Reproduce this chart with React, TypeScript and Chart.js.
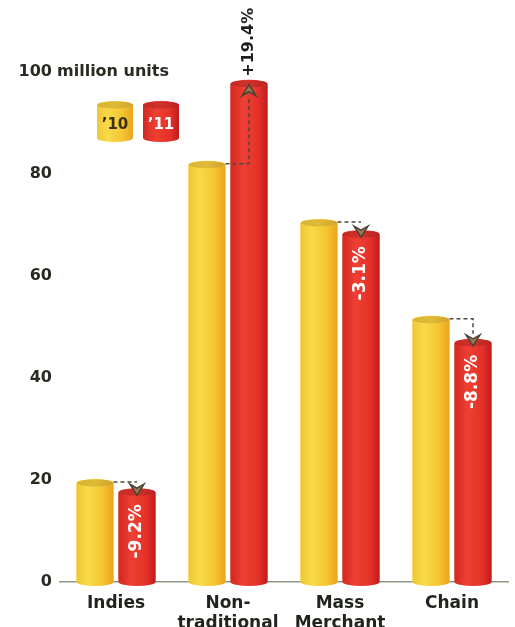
import React, { useEffect, useRef } from 'react';
import { Chart, registerables } from 'chart.js';

Chart.register(...registerables);

const categories = [['Indies'], ['Non-', 'traditional'], ['Mass', 'Merchant'], ['Chain']];
const units2010 = [19.4, 81.8, 70.4, 51.4];
const units2011 = [17.6, 97.7, 68.2, 46.9];
const changeLabels = ['-9.2%', '+19.4%', '-3.1%', '-8.8%'];
const seriesLabels = ['\u201910', '\u201911'];
const axisUnit = 'million units';

const FONT = '"DejaVu Sans", sans-serif';

function cylinder(ctx: CanvasRenderingContext2D, cx: number, top: number, bottom: number, w: number, kind: 'y' | 'r') {
  const left = cx - w / 2;
  const right = cx + w / 2;
  const ry = 4;
  const g = ctx.createLinearGradient(left, 0, right, 0);
  if (kind === 'y') {
    g.addColorStop(0, '#F1C634');
    g.addColorStop(0.3, '#F8DA4A');
    g.addColorStop(0.7, '#F4C632');
    g.addColorStop(1, '#EBA420');
  } else {
    g.addColorStop(0, '#D22822');
    g.addColorStop(0.35, '#EF3F32');
    g.addColorStop(0.75, '#E4322A');
    g.addColorStop(1, '#BE1C1C');
  }
  ctx.save();
  ctx.fillStyle = g;
  ctx.beginPath();
  ctx.moveTo(left, top);
  ctx.lineTo(left, bottom);
  ctx.ellipse(cx, bottom, w / 2, ry, 0, Math.PI, 0, true);
  ctx.lineTo(right, top);
  ctx.ellipse(cx, top, w / 2, ry, 0, 0, -Math.PI, true);
  ctx.closePath();
  ctx.fill();
  const tg = ctx.createLinearGradient(left, 0, right, 0);
  if (kind === 'y') {
    tg.addColorStop(0, '#D8B432');
    tg.addColorStop(0.5, '#DDBA38');
    tg.addColorStop(1, '#D2A42A');
  } else {
    tg.addColorStop(0, '#C42A26');
    tg.addColorStop(0.5, '#CF322C');
    tg.addColorStop(1, '#B82220');
  }
  ctx.fillStyle = tg;
  ctx.beginPath();
  ctx.ellipse(cx, top, w / 2 - 0.5, ry - 0.5, 0, 0, Math.PI * 2);
  ctx.fill();
  ctx.restore();
}

function arrowHead(ctx: CanvasRenderingContext2D, x: number, tipY: number, dir: 1 | -1) {
  const hw = 7;
  const h = 11;
  ctx.save();
  ctx.beginPath();
  ctx.moveTo(x, tipY);
  ctx.lineTo(x - hw, tipY - dir * h);
  ctx.lineTo(x, tipY - dir * (h - 4));
  ctx.lineTo(x + hw, tipY - dir * h);
  ctx.closePath();
  ctx.fillStyle = '#9A7A58';
  ctx.strokeStyle = '#4E4232';
  ctx.lineWidth = 1.5;
  ctx.setLineDash([]);
  ctx.fill();
  ctx.stroke();
  ctx.restore();
}

const cylinderPlugin = {
  id: 'cylinders',
  afterDatasetsDraw(chart: any) {
    const ctx: CanvasRenderingContext2D = chart.ctx;
    const m0 = chart.getDatasetMeta(0);
    const m1 = chart.getDatasetMeta(1);
    const yScale = chart.scales.y;
    const base = yScale.getPixelForValue(0);
    m0.data.forEach((el: any) => cylinder(ctx, el.x, el.y, base, el.width, 'y'));
    m1.data.forEach((el: any) => cylinder(ctx, el.x, el.y, base, el.width, 'r'));

    // change indicators
    m0.data.forEach((ey: any, i: number) => {
      const er = m1.data[i];
      const yTop = ey.y - 1;
      const rTop = er.y;
      const yRight = ey.x + ey.width / 2;
      const up = rTop < yTop;
      ctx.save();
      ctx.strokeStyle = '#4A4A40';
      ctx.lineWidth = 1.5;
      ctx.setLineDash([4, 3]);
      ctx.beginPath();
      ctx.moveTo(yRight, yTop);
      ctx.lineTo(er.x, yTop);
      if (up) {
        ctx.lineTo(er.x, rTop + 12);
      } else if (rTop - yTop > 13) {
        ctx.lineTo(er.x, rTop - 9);
      }
      ctx.stroke();
      ctx.restore();
      if (up) arrowHead(ctx, er.x, rTop + 1, -1);
      else arrowHead(ctx, er.x, rTop + 3, 1);

      // label
      const label = changeLabels[i];
      ctx.save();
      ctx.textBaseline = 'middle';
      if (up) {
        ctx.font = `bold 16px ${FONT}`;
        ctx.translate(er.x, rTop - 7);
        ctx.rotate(-Math.PI / 2);
        ctx.textAlign = 'left';
        ctx.fillStyle = '#1E1E1E';
      } else {
        ctx.font = `bold 17px ${FONT}`;
        ctx.translate(er.x, rTop + 12);
        ctx.rotate(-Math.PI / 2);
        ctx.textAlign = 'right';
        ctx.fillStyle = '#FFFFFF';
      }
      ctx.fillText(label, 0, 0);
      ctx.restore();
    });

    // unit label next to top tick
    const y100 = yScale.getPixelForValue(100);
    ctx.save();
    ctx.font = `bold 16px ${FONT}`;
    ctx.fillStyle = '#2A2A22';
    ctx.textBaseline = 'middle';
    ctx.textAlign = 'left';
    ctx.fillText(axisUnit, yScale.right - 3, y100);
    ctx.restore();

    // legend
    const legendY = y100 + 33;
    const lw = 36;
    const lx = [115, 161];
    cylinder(ctx, lx[0], legendY, legendY + 33, lw, 'y');
    cylinder(ctx, lx[1], legendY, legendY + 33, lw, 'r');
    ctx.save();
    ctx.font = `bold 15px ${FONT}`;
    ctx.textAlign = 'center';
    ctx.textBaseline = 'middle';
    ctx.fillStyle = '#3A3012';
    ctx.fillText(seriesLabels[0], lx[0], legendY + 20);
    ctx.fillStyle = '#FFFFFF';
    ctx.fillText(seriesLabels[1], lx[1], legendY + 20);
    ctx.restore();
  },
};

export default function App() {
  const ref = useRef<HTMLCanvasElement>(null);
  useEffect(() => {
    if (!ref.current) return;
    const chart = new Chart(ref.current, {
      type: 'bar',
      data: {
        labels: categories,
        datasets: [
          { label: seriesLabels[0], data: units2010, backgroundColor: '#F4CC38', categoryPercentage: 0.75, barPercentage: 0.88 },
          { label: seriesLabels[1], data: units2011, backgroundColor: '#E4342A', categoryPercentage: 0.75, barPercentage: 0.88 },
        ],
      },
      options: {
        animation: false,
        responsive: true,
        maintainAspectRatio: false,
        layout: { padding: { top: 72, right: 7, left: 0, bottom: 0 } },
        plugins: { legend: { display: false }, tooltip: { enabled: false } },
        scales: {
          x: {
            grid: { display: false, drawTicks: false },
            border: { display: true, color: '#8E9A86', width: 1.5 },
            ticks: { color: '#1F241C', font: { family: FONT, size: 17, weight: 'bold', lineHeight: 1.2 }, padding: 11, maxRotation: 0 },
            afterFit(scale: any) { scale.height = 45; },
          },
          y: {
            min: 0,
            max: 100,
            grid: { display: false, drawTicks: false },
            border: { display: false },
            ticks: { stepSize: 20, color: '#2A2A22', font: { family: FONT, size: 16, weight: 'bold' }, padding: 8 },
            afterFit(scale: any) { scale.width = 60; },
          },
        },
      },
      plugins: [cylinderPlugin],
    });
    return () => chart.destroy();
  }, []);
  return (
    <div style={{ position: 'absolute', left: 0, top: 0, width: 515, height: 627, background: '#fff' }}>
      <canvas ref={ref} />
    </div>
  );
}
